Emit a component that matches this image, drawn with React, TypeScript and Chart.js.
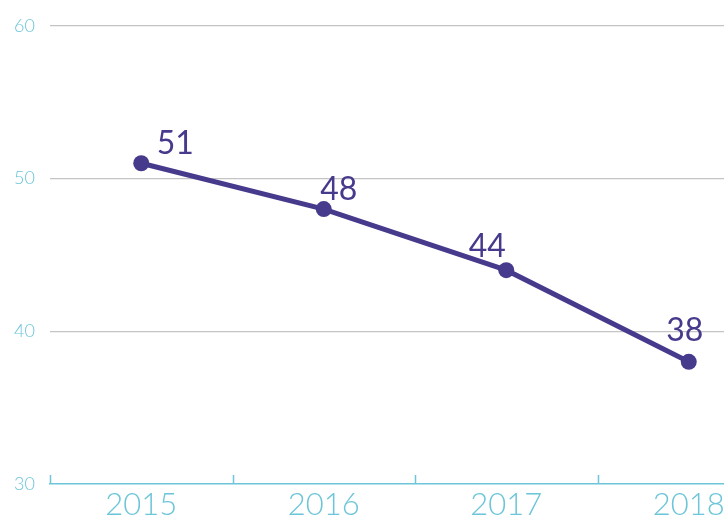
import React, { useEffect, useRef } from "react";
import { Chart, registerables } from "chart.js";

Chart.register(...registerables);

const categories = ["2015", "2016", "2017", "2018"];
const values = [51, 48, 44, 38];
const yTicks = [30, 40, 50, 60];
// label offsets (style only) relative to point, in px
const labelOffsets: [number, number][] = [
  [34, -20],
  [15, -19],
  [-19, -23],
  [-4, -31],
];

const PURPLE = "#463a8c";
const BLUE = "#6cc5d8";
const FONT = "Lato, 'Open Sans', sans-serif";

export default function App() {
  const ref = useRef<HTMLCanvasElement | null>(null);
  useEffect(() => {
    if (!ref.current) return;
    const upTicks = {
      id: "upTicks",
      afterDatasetsDraw(chart: any) {
        const x = chart.scales.x;
        const ctx = chart.ctx;
        const step = x.getPixelForValue(1) - x.getPixelForValue(0);
        ctx.save();
        ctx.strokeStyle = BLUE;
        ctx.lineWidth = 1.5;
        for (let i = 0; i < categories.length; i++) {
          const px = Math.round(x.getPixelForValue(i) - step / 2) + 0.5;
          ctx.beginPath();
          ctx.moveTo(px, x.top);
          ctx.lineTo(px, x.top - 9);
          ctx.stroke();
        }
        ctx.restore();
      },
    };
    const dataLabels = {
      id: "dataLabels",
      afterDatasetsDraw(chart: any) {
        const ctx = chart.ctx;
        const meta = chart.getDatasetMeta(0);
        ctx.save();
        ctx.fillStyle = PURPLE;
        ctx.font = `400 32px ${FONT}`;
        ctx.textAlign = "center";
        ctx.textBaseline = "middle";
        meta.data.forEach((pt: any, i: number) => {
          const [dx, dy] = labelOffsets[i];
          ctx.fillText(String(values[i]), pt.x + dx, pt.y + dy);
        });
        ctx.restore();
      },
    };
    const chart = new Chart(ref.current, {
      type: "line",
      data: {
        labels: categories,
        datasets: [
          {
            data: values,
            borderColor: PURPLE,
            backgroundColor: PURPLE,
            borderWidth: 5,
            pointRadius: 8,
            pointHoverRadius: 8,
            pointBackgroundColor: PURPLE,
            pointBorderWidth: 0,
            tension: 0,
            clip: false as any,
          },
        ],
      },
      options: {
        responsive: false,
        animation: false,
        layout: { autoPadding: false, padding: { top: 23, right: 0, left: 0, bottom: 0 } },
        plugins: { legend: { display: false }, tooltip: { enabled: false } },
        scales: {
          x: {
            offset: true,
            grid: { display: false, drawTicks: false },
            border: { display: true, color: BLUE, width: 1.5 },
            ticks: {
              color: BLUE,
              font: { family: FONT, size: 31, weight: "300" },
              padding: 2,
              maxRotation: 0,
            },
            afterFit(s: any) {
              s.height = 36;
            },
          },
          y: {
            min: 30,
            max: 60,
            afterBuildTicks(s: any) {
              s.ticks = yTicks.map((v) => ({ value: v }));
            },
            grid: {
              color: (c: any) => (c.tick && c.tick.value === 30 ? "rgba(0,0,0,0)" : "#c4c4c4"),
              lineWidth: 1.2,
              drawTicks: false,
            },
            border: { display: false },
            ticks: {
              color: BLUE,
              font: { family: FONT, size: 18, weight: "300" },
              padding: 15,
            },
            afterFit(s: any) {
              s.width = 50;
            },
          },
        },
      },
      plugins: [upTicks, dataLabels],
    });
    return () => chart.destroy();
  }, []);
  return (
    <div
      style={{
        position: "fixed",
        left: 0,
        top: 0,
        width: 724,
        height: 520,
        overflow: "hidden",
        background: "#fff",
      }}
    >
      <canvas ref={ref} width={780} height={520} style={{ width: 780, height: 520, display: "block" }} />
    </div>
  );
}
